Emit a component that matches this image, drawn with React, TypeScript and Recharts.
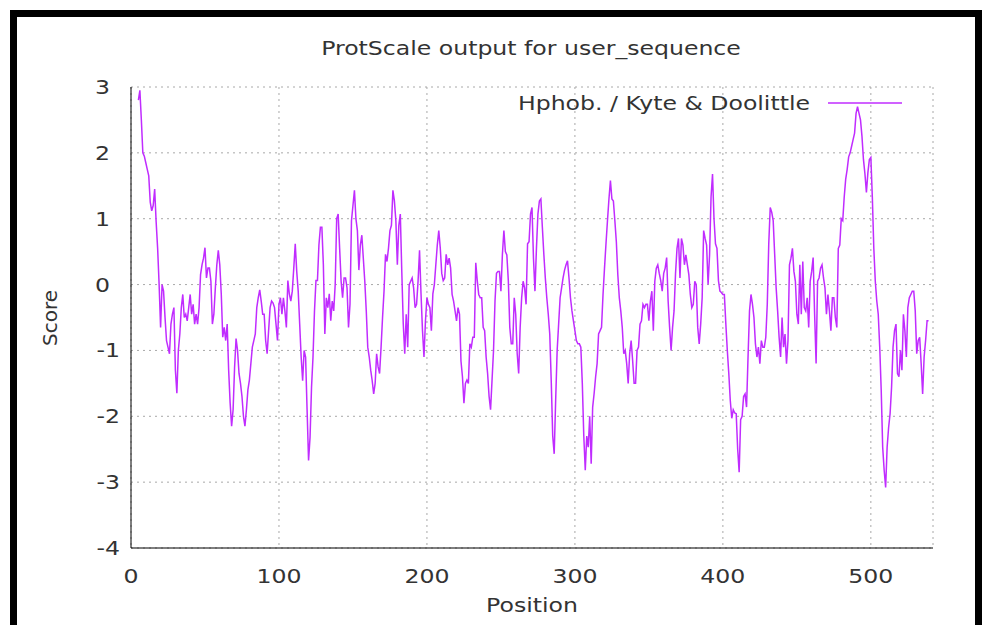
import React from 'react';
import { LineChart, Line, XAxis, YAxis, CartesianGrid } from 'recharts';

// ProtScale Kyte & Doolittle profile, one value per residue starting at residue 5
const FIRST_RESIDUE = 5;
const scores = [
  2.8, 2.95, 2.5, 2.0, 1.95, 1.85, 1.75, 1.65, 1.25, 1.12, // 5-14
  1.2, 1.45, 0.95, 0.55, 0.0, -0.65, 0.0, -0.1, -0.5, -0.85, // 15-24
  -0.95, -1.05, -0.6, -0.45, -0.35, -1.3, -1.65, -1.0, -0.75, -0.35, // 25-34
  -0.15, -0.5, -0.45, -0.55, -0.35, -0.15, -0.45, -0.3, -0.6, -0.45, // 35-44
  -0.6, -0.35, 0.15, 0.3, 0.4, 0.56, 0.1, 0.25, 0.25, 0.05, // 45-54
  -0.6, -0.45, -0.05, 0.3, 0.52, 0.3, -0.14, -0.8, -0.65, -0.85, // 55-64
  -0.6, -1.3, -1.8, -2.15, -1.9, -1.26, -0.82, -1.0, -1.35, -1.5, // 65-74
  -1.7, -2.0, -2.15, -1.9, -1.6, -1.45, -1.2, -0.95, -0.85, -0.75, // 75-84
  -0.35, -0.2, -0.08, -0.25, -0.45, -0.45, -0.85, -1.05, -0.7, -0.35, // 85-94
  -0.25, -0.28, -0.35, -0.6, -0.85, -0.3, -0.2, -0.45, -0.2, -0.4, // 95-104
  -0.65, 0.06, -0.14, -0.25, -0.1, 0.25, 0.62, 0.2, -0.1, -0.6, // 105-114
  -1.1, -1.46, -1.0, -1.1, -1.9, -2.67, -2.32, -1.56, -1.1, -0.4, // 115-124
  0.06, 0.06, 0.6, 0.87, 0.87, 0.3, -0.75, -0.2, -0.35, -0.14, // 125-134
  -0.55, -0.25, -0.4, 0.0, 1.0, 1.07, 0.55, 0.05, -0.2, 0.1, // 135-144
  0.1, -0.05, -0.65, -0.3, 0.97, 1.2, 1.43, 1.0, 0.82, 0.22, // 145-154
  0.6, 0.75, 0.4, 0.05, -0.4, -0.95, -1.1, -1.3, -1.46, -1.66, // 155-164
  -1.5, -1.05, -1.25, -1.35, -0.95, -0.5, -0.1, 0.46, 0.35, 0.55, // 165-174
  0.82, 0.9, 1.43, 1.27, 0.97, 0.3, 0.9, 1.07, 0.2, -0.6, // 175-184
  -1.05, -0.45, -0.95, 0.0, 0.05, 0.1, -0.05, -0.35, -0.3, 0.05, // 185-194
  0.52, -0.14, -0.7, -1.1, -0.55, -0.2, -0.3, -0.35, -0.7, -0.14, // 195-204
  0.0, 0.3, 0.6, 0.82, 0.56, 0.17, 0.06, 0.1, 0.46, 0.3, // 205-214
  0.4, 0.25, -0.15, -0.25, -0.4, -0.55, -0.35, -0.45, -1.16, -1.4, // 215-224
  -1.8, -1.5, -1.45, -1.5, -0.9, -0.95, -0.8, -0.8, 0.33, 0.06, // 225-234
  -0.15, -0.2, -0.2, -0.65, -0.7, -1.1, -1.35, -1.7, -1.9, -1.45, // 235-244
  -1.0, -0.25, 0.17, 0.2, 0.2, -0.1, 0.46, 0.82, 0.5, 0.45, // 245-254
  0.06, -0.65, -0.9, -0.9, -0.2, -0.45, -1.05, -1.35, -0.65, -0.2, // 255-264
  0.05, -0.05, -0.3, 0.62, 0.65, 1.07, 1.17, 0.4, -0.1, 0.55, // 265-274
  1.07, 1.27, 1.3, 0.87, 0.46, 0.1, -0.2, -0.45, -0.75, -1.46, // 275-284
  -2.3, -2.57, -1.75, -1.0, -0.6, -0.2, -0.05, 0.1, 0.22, 0.3, // 285-294
  0.36, 0.1, -0.2, -0.4, -0.55, -0.7, -0.85, -0.9, -0.9, -0.95, // 295-304
  -1.5, -2.3, -2.82, -2.3, -2.47, -2.0, -2.72, -1.86, -1.65, -1.4, // 305-314
  -1.2, -0.75, -0.7, -0.65, -0.15, 0.25, 0.62, 0.97, 1.3, 1.58, // 315-324
  1.3, 1.27, 0.97, 0.65, 0.15, -0.2, -0.4, -0.65, -1.05, -1.0, // 325-334
  -1.2, -1.5, -1.05, -0.85, -1.15, -1.5, -1.5, -1.0, -0.95, -0.6, // 335-344
  -0.55, -0.3, -0.35, -0.3, -0.3, -0.55, -0.25, -0.1, -0.7, 0.05, // 345-354
  0.25, 0.3, 0.17, 0.06, -0.1, 0.17, 0.25, 0.41, -0.25, -0.65, // 355-364
  -1.0, -0.65, -0.4, 0.17, 0.55, 0.7, 0.1, 0.7, 0.6, 0.3, // 365-374
  0.45, 0.3, 0.15, -0.15, -0.35, -0.3, 0.05, 0.0, -0.65, -0.9, // 375-384
  -0.6, -0.2, 0.82, 0.7, 0.6, 0.0, 0.45, 1.33, 1.68, 1.0, // 385-394
  0.62, 0.55, 0.06, -0.1, -0.12, -0.15, -0.15, -0.6, -1.0, -1.35, // 395-404
  -1.76, -2.03, -1.9, -1.95, -1.96, -2.5, -2.85, -2.05, -2.0, -1.7, // 405-414
  -1.66, -1.86, -1.1, -0.4, -0.15, -0.3, -0.5, -0.9, -1.1, -0.95, // 415-424
  -1.2, -0.85, -0.95, -0.95, -0.8, -0.3, 0.62, 1.17, 1.1, 0.97, // 425-434
  0.46, -0.05, -0.4, -0.8, -1.1, -0.5, -0.95, -0.75, -1.2, -0.85, // 435-444
  0.3, 0.4, 0.55, 0.2, 0.05, -0.45, -0.6, 0.3, -0.45, 0.35, // 445-454
  -0.35, -0.4, -0.2, -0.65, 0.05, 0.2, 0.41, -0.45, -1.2, 0.05, // 455-464
  0.1, 0.25, 0.3, 0.1, -0.05, -0.45, -0.15, -0.4, -0.7, -0.2, // 465-474
  -0.2, -0.5, -0.65, 0.55, 0.6, 1.0, 0.97, 1.33, 1.6, 1.75, // 475-484
  1.94, 2.0, 2.1, 2.2, 2.3, 2.6, 2.7, 2.6, 2.5, 2.25, // 485-494
  1.9, 1.68, 1.4, 1.7, 1.9, 1.93, 1.33, 0.55, 0.05, -0.25, // 495-504
  -0.45, -0.95, -1.6, -2.47, -2.82, -3.08, -2.47, -2.17, -1.96, -1.56, // 505-514
  -0.95, -0.7, -0.6, -1.35, -1.4, -1.0, -1.3, -0.45, -0.7, -1.1, // 515-524
  -0.35, -0.2, -0.15, -0.1, -0.1, -0.4, -1.05, -0.85, -0.8, -1.2, // 525-534
  -1.66, -1.1, -0.85, -0.55, -0.55, // 535-539
];

const xTicks = [0, 100, 200, 300, 400, 500];
const yTicks = [-4, -3, -2, -1, 0, 1, 2, 3];
const X_DOMAIN = [0, 542];
const Y_DOMAIN = [-4, 3];

const TITLE = 'ProtScale output for user_sequence';
const SERIES_LABEL = 'Hphob. / Kyte & Doolittle';
const X_LABEL = 'Position';
const Y_LABEL = 'Score';

const LINE_COLOR = '#c02cff';
const TEXT_COLOR = '#333';
const FONT = '"DejaVu Sans", Verdana, sans-serif';
const STRETCH = 1.18; // the source png is stretched sideways

const data = scores.map((score, i) => ({ position: FIRST_RESIDUE + i, score }));

function stretchAt(x: number) {
  return `translate(${x},0) scale(${STRETCH},1) translate(${-x},0)`;
}

function YTick({ x, y, payload }: any) {
  // gnuplot pads positive labels with a leading blank
  const shift = payload.value >= 0 ? -10 : 0;
  const tx = x + shift;
  return (
    <text x={tx} y={y} dy={7} textAnchor="end" fontSize={20} fontFamily={FONT} fill={TEXT_COLOR} transform={stretchAt(tx)}>
      {payload.value}
    </text>
  );
}

function XTick({ x, y, payload }: any) {
  return (
    <text x={x} y={y} dy={15} textAnchor="middle" fontSize={20} fontFamily={FONT} fill={TEXT_COLOR} transform={stretchAt(x)}>
      {payload.value}
    </text>
  );
}

export default function App() {
  return (
    <div style={{ position: 'absolute', left: 0, top: 0, width: 982, height: 625, background: '#fff', overflow: 'hidden' }}>
      <div
        style={{
          position: 'absolute',
          left: 10,
          top: 10,
          width: 972,
          height: 700,
          boxSizing: 'border-box',
          borderTop: '7px solid #000',
          borderLeft: '7px solid #000',
          borderRight: '7px solid #000',
        }}
      />
      <LineChart
        width={982}
        height={625}
        data={data}
        margin={{ top: 87, right: 49, bottom: 47, left: 71 }}
        style={{ position: 'absolute', left: 0, top: 0 }}
      >
        <CartesianGrid xAxisId="b" yAxisId="l" stroke="#a8a8a8" strokeDasharray="2 4" />
        <XAxis
          xAxisId="b"
          dataKey="position"
          type="number"
          domain={X_DOMAIN}
          ticks={xTicks}
          allowDataOverflow
          height={30}
          axisLine={{ stroke: '#000' }}
          tickLine={false}
          tickSize={0}
          tickMargin={20}
          tick={<XTick />}
        />
        <XAxis
          xAxisId="bm"
          dataKey="position"
          type="number"
          domain={X_DOMAIN}
          ticks={xTicks}
          allowDataOverflow
          mirror
          height={0}
          axisLine={false}
          tickLine={{ stroke: '#000' }}
          tickSize={6}
          tick={false}
        />
        <XAxis
          xAxisId="t"
          orientation="top"
          dataKey="position"
          type="number"
          domain={X_DOMAIN}
          ticks={xTicks}
          allowDataOverflow
          mirror
          height={0}
          axisLine={{ stroke: '#000' }}
          tickLine={{ stroke: '#000' }}
          tickSize={6}
          tick={false}
        />
        <YAxis
          yAxisId="l"
          type="number"
          domain={Y_DOMAIN}
          ticks={yTicks}
          allowDataOverflow
          width={60}
          axisLine={{ stroke: '#000' }}
          tickLine={false}
          tickSize={0}
          tickMargin={11}
          tick={<YTick />}
        />
        <YAxis
          yAxisId="lm"
          type="number"
          domain={Y_DOMAIN}
          ticks={yTicks}
          allowDataOverflow
          mirror
          width={0}
          axisLine={false}
          tickLine={{ stroke: '#000' }}
          tickSize={6}
          tick={false}
        />
        <YAxis
          yAxisId="r"
          orientation="right"
          type="number"
          domain={Y_DOMAIN}
          ticks={yTicks}
          allowDataOverflow
          mirror
          width={0}
          axisLine={{ stroke: '#000' }}
          tickLine={{ stroke: '#000' }}
          tickSize={6}
          tick={false}
        />
        <Line
          xAxisId="b"
          yAxisId="l"
          type="linear"
          dataKey="score"
          stroke={LINE_COLOR}
          strokeWidth={1.5}
          dot={false}
          activeDot={false}
          isAnimationActive={false}
        />
      </LineChart>
      <svg width={982} height={625} style={{ position: 'absolute', left: 0, top: 0, pointerEvents: 'none' }}>
        <text x={531} y={55} textAnchor="middle" fontSize={20} fontFamily={FONT} fill={TEXT_COLOR} transform={stretchAt(531)}>
          {TITLE}
        </text>
        <text x={810} y={110} textAnchor="end" fontSize={20} fontFamily={FONT} fill={TEXT_COLOR} transform={stretchAt(810)}>
          {SERIES_LABEL}
        </text>
        <line x1={828} x2={902} y1={103} y2={103} stroke={LINE_COLOR} strokeWidth={1.5} />
        <text x={532} y={612} textAnchor="middle" fontSize={20} fontFamily={FONT} fill={TEXT_COLOR} transform={stretchAt(532)}>
          {X_LABEL}
        </text>
        <text transform="translate(57,318) rotate(-90)" textAnchor="middle" fontSize={20} fontFamily={FONT} fill={TEXT_COLOR}>
          {Y_LABEL}
        </text>
      </svg>
    </div>
  );
}
